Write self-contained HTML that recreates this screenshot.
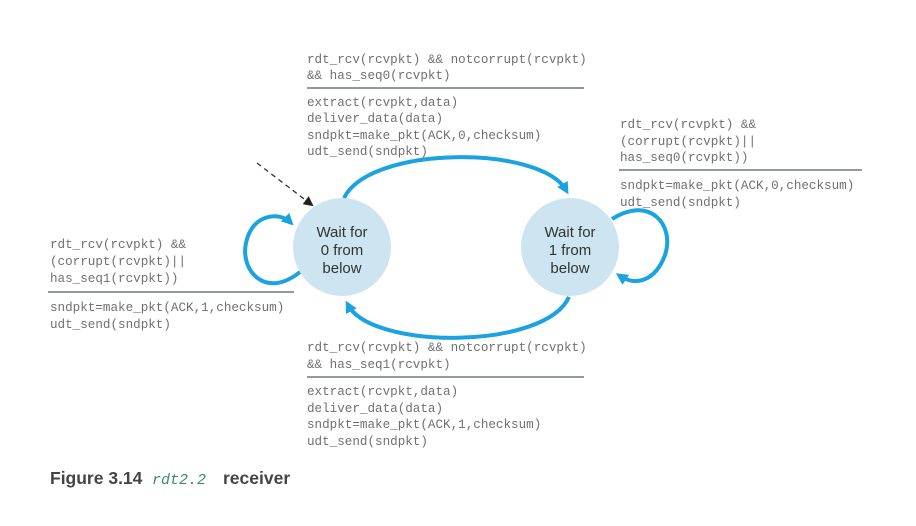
<!DOCTYPE html>
<html><head><meta charset="utf-8"><style>
html,body{margin:0;padding:0;background:#fff;}
svg{display:block}
.m{font-family:"Liberation Mono",monospace;font-size:12.6px;fill:#707070;}
.s{font-family:"Liberation Sans",sans-serif;font-size:15px;fill:#333;}
</style></head><body>
<svg width="916" height="526" viewBox="0 0 916 526" xmlns="http://www.w3.org/2000/svg">
<defs>
<marker id="a" markerWidth="12" markerHeight="12" refX="7" refY="6" orient="auto" markerUnits="userSpaceOnUse"><path d="M0,0 L12,6 L0,12 Z" fill="#1aa3e0"/></marker>
<marker id="b" markerWidth="10" markerHeight="10" refX="8" refY="5" orient="auto" markerUnits="userSpaceOnUse"><path d="M0,0 L10,5 L0,10 Z" fill="#222"/></marker>
</defs>
<g fill="none" stroke="#1aa3e0" stroke-width="4">
<path d="M344,198 C370,145 540,145 566,190" marker-end="url(#a)"/>
<path d="M569,297 C545,350 372,350 348,305" marker-end="url(#a)"/>
<path d="M300,272 C265,300 240,270 246,243 C252,213 280,212 290,222" marker-end="url(#a)"/>
<path d="M612,219 C650,195 675,225 665,255 C655,282 635,286 620,276" marker-end="url(#a)"/>
</g>
<line x1="257" y1="163" x2="312" y2="205" stroke="#333" stroke-width="1.3" stroke-dasharray="5,4" marker-end="url(#b)"/>
<circle cx="342" cy="247" r="49" fill="#cde4f1"/>
<circle cx="570" cy="247" r="49" fill="#cde4f1"/>
<g class="s" text-anchor="middle">
<text x="342" y="237">Wait for</text><text x="342" y="255">0 from</text><text x="342" y="273">below</text>
<text x="570" y="237">Wait for</text><text x="570" y="255">1 from</text><text x="570" y="273">below</text>
</g>
<g stroke="#555a66" stroke-width="1.3">
<line x1="307" y1="88" x2="584" y2="88"/>
<line x1="619" y1="170" x2="862" y2="170"/>
<line x1="48" y1="292" x2="294" y2="292"/>
<line x1="307" y1="377" x2="584" y2="377"/>
</g>
<g class="m">
<text x="307" y="63">rdt_rcv(rcvpkt) &amp;&amp; notcorrupt(rcvpkt)</text>
<text x="307" y="79">&amp;&amp; has_seq0(rcvpkt)</text>
<text x="307" y="106">extract(rcvpkt,data)</text>
<text x="307" y="122">deliver_data(data)</text>
<text x="307" y="139">sndpkt=make_pkt(ACK,0,checksum)</text>
<text x="307" y="155">udt_send(sndpkt)</text>
<text x="620" y="128">rdt_rcv(rcvpkt) &amp;&amp;</text>
<text x="620" y="145">(corrupt(rcvpkt)||</text>
<text x="620" y="161">has_seq0(rcvpkt))</text>
<text x="620" y="189">sndpkt=make_pkt(ACK,0,checksum)</text>
<text x="620" y="206">udt_send(sndpkt)</text>
<text x="50" y="248">rdt_rcv(rcvpkt) &amp;&amp;</text>
<text x="50" y="265">(corrupt(rcvpkt)||</text>
<text x="50" y="282">has_seq1(rcvpkt))</text>
<text x="50" y="311">sndpkt=make_pkt(ACK,1,checksum)</text>
<text x="50" y="328">udt_send(sndpkt)</text>
<text x="307" y="351">rdt_rcv(rcvpkt) &amp;&amp; notcorrupt(rcvpkt)</text>
<text x="307" y="368">&amp;&amp; has_seq1(rcvpkt)</text>
<text x="307" y="395">extract(rcvpkt,data)</text>
<text x="307" y="412">deliver_data(data)</text>
<text x="307" y="428">sndpkt=make_pkt(ACK,1,checksum)</text>
<text x="307" y="445">udt_send(sndpkt)</text>
</g>
<text x="50" y="484" style="font-family:'Liberation Sans',sans-serif;font-size:17.5px;font-weight:bold;fill:#444">Figure 3.14</text>
<text x="152" y="484" style="font-family:'Liberation Mono',monospace;font-size:15px;font-style:italic;fill:#3a8a70">rdt2.2</text>
<text x="223" y="484" style="font-family:'Liberation Sans',sans-serif;font-size:17.5px;font-weight:bold;fill:#444">receiver</text>
</svg>
</body></html>
